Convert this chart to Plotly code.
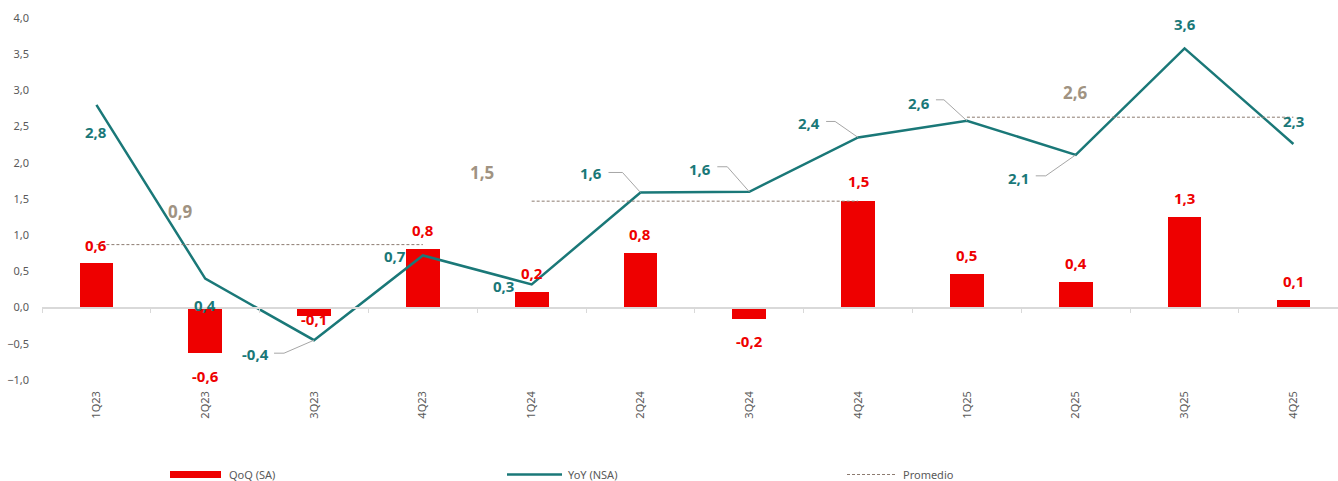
import plotly.graph_objects as go

categories = ["1Q23", "2Q23", "3Q23", "4Q23", "1Q24", "2Q24", "3Q24", "4Q24",
              "1Q25", "2Q25", "3Q25", "4Q25"]
qoq_sa = [0.62, -0.63, -0.12, 0.81, 0.21, 0.76, -0.16, 1.47, 0.46, 0.35, 1.25, 0.11]
yoy_nsa = [2.80, 0.40, -0.45, 0.72, 0.32, 1.59, 1.60, 2.35, 2.58, 2.11, 3.58, 2.26]
qoq_labels = ["0,6", "-0,6", "-0,1", "0,8", "0,2", "0,8", "-0,2", "1,5", "0,5", "0,4", "1,3", "0,1"]
yoy_labels = ["2,8", "0,4", "-0,4", "0,7", "0,3", "1,6", "1,6", "2,4", "2,6", "2,1", "3,6", "2,3"]
avg_groups = [[0, 1, 2, 3], [4, 5, 6, 7], [8, 9, 10, 11]]
avg_values = [0.87, 1.47, 2.63]
avg_labels = ["0,9", "1,5", "2,6"]
y_ticks = [-1.0, -0.5, 0.0, 0.5, 1.0, 1.5, 2.0, 2.5, 3.0, 3.5, 4.0]

RED = "#EE0000"
TEAL = "#1A7878"
AVG = "#A09382"
GRAY = "#595959"
LEAD = "#A6A6A6"
FONT = "Noto Sans"
TICKFONT = "Liberation Sans Narrow, Noto Sans"

x_idx = list(range(len(categories)))

fig = go.Figure()
fig.add_trace(go.Bar(x=x_idx, y=qoq_sa, marker=dict(color=RED, line=dict(width=0)),
                     width=0.31, name="QoQ (SA)", showlegend=False, hoverinfo="skip"))
fig.add_trace(go.Scatter(x=x_idx, y=yoy_nsa, mode="lines", line=dict(color=TEAL, width=2.5),
                         name="YoY (NSA)", showlegend=False, hoverinfo="skip"))
for grp, val in zip(avg_groups, avg_values):
    fig.add_trace(go.Scatter(x=grp, y=[val] * len(grp), mode="lines",
                             line=dict(color="#8C7B70", width=1, dash="3px,2px"),
                             showlegend=False, hoverinfo="skip"))
# dummy trace for boundary-tick axis at zero
fig.add_trace(go.Scatter(x=[None], y=[None], xaxis="x2", yaxis="y", showlegend=False,
                         hoverinfo="skip"))

annotations = []
# bar labels: pixel offset from bar end
bar_shift = [18, -23, -3, 19, 19, 19, -22, 20, 19, 19, 19, 19]
for i, (v, lab) in enumerate(zip(qoq_sa, qoq_labels)):
    annotations.append(dict(x=i, y=v, text="<b>%s</b>" % lab, showarrow=False,
                            yshift=bar_shift[i], font=dict(family=FONT, size=15, color=RED)))
# line labels: pixel offsets from points
line_shift = [(0, -27), (0, -26), (-59, -14), (-28, -1), (-28, -2), (-49, 19),
              (-49, 23), (-49, 14), (-48, 18), (-57, -23), (0, 24), (0, 23)]
for i, (v, lab) in enumerate(zip(yoy_nsa, yoy_labels)):
    dx, dy = line_shift[i]
    annotations.append(dict(x=i, y=v, text="<b>%s</b>" % lab, showarrow=False,
                            xshift=dx, yshift=dy, font=dict(family=FONT, size=15, color=TEAL)))
# average labels
avg_pos = [(0.77, 33), (3.54, 29), (9.0, 25)]
for (px, dy), v, lab in zip(avg_pos, avg_values, avg_labels):
    annotations.append(dict(x=px, y=v, text="<b>%s</b>" % lab, showarrow=False, yshift=dy,
                            font=dict(family=FONT, size=17, color=AVG)))

# leader lines (pixel paths anchored at points)
leaders = {2: (-40, -13, -30), 5: (-32, 20, -18), 6: (-32, 25, -22), 7: (-32, 16, -23),
           8: (-31, 21, -23), 9: (-40, -21, -30)}
shapes = []
for i, (sx, sy, bx) in leaders.items():
    shapes.append(dict(type="path", xref="x", yref="y", xsizemode="pixel", ysizemode="pixel",
                       xanchor=i, yanchor=yoy_nsa[i],
                       path="M %d,%d L %d,%d L 0,0" % (sx, sy, bx, sy),
                       line=dict(color=LEAD, width=1)))

# custom legend
L, T, W, H = 42, 18, 1296, 362
def px(xp):
    return (xp - L) / W
def py(yp):
    return (T + H - yp) / H
shapes.append(dict(type="rect", xref="paper", yref="paper", x0=px(170), x1=px(221),
                   y0=py(478), y1=py(471), fillcolor=RED, line=dict(width=0)))
shapes.append(dict(type="line", xref="paper", yref="paper", x0=px(507), x1=px(562),
                   y0=py(474.5), y1=py(474.5), line=dict(color=TEAL, width=2.5)))
shapes.append(dict(type="line", xref="paper", yref="paper", x0=px(847), x1=px(896),
                   y0=py(474.5), y1=py(474.5), line=dict(color="#8C7B70", width=1, dash="3px,2px")))
for xt, txt in [(227, "QoQ (SA)"), (566, "YoY (NSA)"), (901, "Promedio")]:
    annotations.append(dict(xref="paper", yref="paper", x=px(xt), y=py(474.5), text=txt,
                            showarrow=False, xanchor="left", yanchor="middle",
                            font=dict(family=TICKFONT, size=11, color=GRAY)))

fig.update_layout(
    width=1338, height=481,
    margin=dict(l=L, r=0, t=T, b=481 - T - H),
    paper_bgcolor="white", plot_bgcolor="white",
    separators=",.",
    showlegend=False,
    bargap=0,
    xaxis=dict(range=[-0.5, 11.41], tickvals=x_idx, ticktext=categories, tickangle=-90,
               showline=False, showgrid=False, zeroline=False, ticks="",
               ticklabelstandoff=8,
               tickfont=dict(family=TICKFONT, size=11, color=GRAY)),
    xaxis2=dict(overlaying="x", anchor="free", position=0.2, range=[-0.5, 11.41],
                tickvals=[i - 0.5 for i in range(13)], showticklabels=False,
                showline=True, linecolor="#D9D9D9", linewidth=1.5,
                ticks="outside", ticklen=5, tickcolor="#D9D9D9", tickwidth=1,
                showgrid=False, zeroline=False),
    yaxis=dict(range=[-1, 4], tickvals=y_ticks, tickformat=".1f", showgrid=False,
               zeroline=False, showline=False, ticks="", ticklabelstandoff=12,
               tickfont=dict(family=TICKFONT, size=11, color=GRAY)),
    annotations=annotations,
    shapes=shapes,
)

fig.write_html("out.html", config={"displayModeBar": False},
               post_script="document.body.style.margin='0px';document.body.style.overflow='hidden';")
